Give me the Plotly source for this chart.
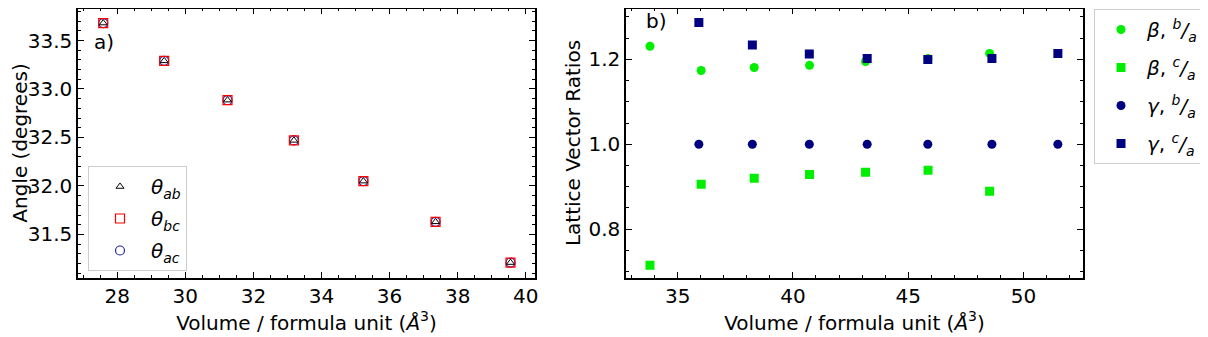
import plotly.graph_objects as go

# panel a) angles vs volume
vol_a = [27.59, 29.38, 31.24, 33.19, 35.23, 37.35, 39.55]
theta_ab = [33.68, 33.29, 32.885, 32.47, 32.05, 31.63, 31.21]
theta_bc = [33.68, 33.29, 32.885, 32.47, 32.05, 31.63, 31.21]
theta_ac = [33.68, 33.29, 32.885, 32.47, 32.05, 31.63, 31.21]

# panel b) lattice vector ratios
vol_beta = [33.80, 36.02, 38.32, 40.72, 43.15, 45.86, 48.53]
beta_ba = [1.231, 1.174, 1.181, 1.186, 1.195, 1.202, 1.214]
beta_ca = [0.715, 0.906, 0.920, 0.929, 0.934, 0.939, 0.889]
vol_gamma = [35.92, 38.24, 40.71, 43.22, 45.85, 48.63, 51.49]
gamma_ba = [1.0, 1.0, 1.0, 1.0, 1.0, 1.0, 1.0]
gamma_ca = [1.287, 1.234, 1.213, 1.202, 1.200, 1.202, 1.214]

FONT = "DejaVu Sans"
FS = 20
GREEN = "#00ee00"
NAVY = "#000080"

# page body has an 8px margin, so the figure is 8px smaller and positions are offset
OFF = 8
W, H = 1208 - OFF, 337 - OFF


def px(x):
    return min(1, max(0, (x - OFF) / W))


def py(y):
    return min(1, max(0, 1 - (y - OFF) / H))


fig = go.Figure()

# left panel (each trace its own legend group so tracegroupgap spaces the entries)
fig.add_trace(go.Scatter(x=vol_a, y=theta_ac, mode="markers", name="<i>θ<sub>ac</sub></i>",
                         marker=dict(symbol="circle-open", size=9, color="#22229a", line=dict(width=1.2)),
                         xaxis="x", yaxis="y", legend="legend", legendgroup="ac", legendrank=3))
fig.add_trace(go.Scatter(x=vol_a, y=theta_bc, mode="markers", name="<i>θ<sub>bc</sub></i>",
                         marker=dict(symbol="square-open", size=9, color="red", line=dict(width=1.2)),
                         xaxis="x", yaxis="y", legend="legend", legendgroup="bc", legendrank=2))
fig.add_trace(go.Scatter(x=vol_a, y=theta_ab, mode="markers", name="<i>θ<sub>ab</sub></i>",
                         marker=dict(symbol="triangle-up-open", size=7, color="black", line=dict(width=1)),
                         xaxis="x", yaxis="y", legend="legend", legendgroup="ab", legendrank=1))

# right panel
fig.add_trace(go.Scatter(x=vol_beta, y=beta_ba, mode="markers", name="<i>β</i>, <i><sup>b</sup>/<sub>a</sub></i>",
                         marker=dict(symbol="circle", size=9, color=GREEN),
                         xaxis="x2", yaxis="y2", legend="legend2", legendgroup="bba"))
fig.add_trace(go.Scatter(x=vol_beta, y=beta_ca, mode="markers", name="<i>β</i>, <i><sup>c</sup>/<sub>a</sub></i>",
                         marker=dict(symbol="square", size=9, color=GREEN),
                         xaxis="x2", yaxis="y2", legend="legend2", legendgroup="bca"))
fig.add_trace(go.Scatter(x=vol_gamma, y=gamma_ba, mode="markers", name="<i>γ</i>, <i><sup>b</sup>/<sub>a</sub></i>",
                         marker=dict(symbol="circle", size=9, color=NAVY),
                         xaxis="x2", yaxis="y2", legend="legend2", legendgroup="gba"))
fig.add_trace(go.Scatter(x=vol_gamma, y=gamma_ca, mode="markers", name="<i>γ</i>, <i><sup>c</sup>/<sub>a</sub></i>",
                         marker=dict(symbol="square", size=9, color=NAVY),
                         xaxis="x2", yaxis="y2", legend="legend2", legendgroup="gca"))

ydom = [py(277.5), py(8.5)]

axis_common = dict(
    showline=True, linecolor="black", linewidth=1.5, mirror="allticks",
    ticks="inside", ticklen=6, tickwidth=1.2, tickcolor="black",
    showgrid=False, zeroline=False, automargin=False,
    tickfont=dict(family=FONT, size=FS, color="black"),
)
xtitle = "Volume / formula unit (<i>Å</i><sup>3</sup>)"

fig.update_layout(
    width=W, height=H,
    margin=dict(l=0, r=0, t=0, b=0),
    paper_bgcolor="white", plot_bgcolor="white",
    font=dict(family=FONT, color="black"),
    xaxis=dict(axis_common, domain=[px(78), px(535)], range=[26.85, 40.27], dtick=2,
               minor=dict(ticks="inside", dtick=0.5, ticklen=3, tickcolor="black"),
               title=dict(text=xtitle, font=dict(family=FONT, size=FS), standoff=2),
               anchor="y"),
    yaxis=dict(axis_common, domain=ydom, range=[31.056, 33.83], dtick=0.5, tickformat=".1f",
               minor=dict(ticks="inside", dtick=0.1, ticklen=3, tickcolor="black"),
               title=dict(text="Angle (degrees)", font=dict(family=FONT, size=FS), standoff=11),
               anchor="x"),
    xaxis2=dict(axis_common, domain=[px(626), px(1083)], range=[32.76, 52.58], dtick=5,
                minor=dict(ticks="inside", dtick=1, ticklen=3, tickcolor="black"),
                title=dict(text=xtitle, font=dict(family=FONT, size=FS), standoff=2),
                anchor="y2"),
    yaxis2=dict(axis_common, domain=ydom, range=[0.686, 1.320], dtick=0.2, tickformat=".1f",
                minor=dict(ticks="inside", dtick=0.05, ticklen=3, tickcolor="black"),
                title=dict(text="Lattice Vector Ratios", font=dict(family=FONT, size=FS), standoff=2),
                anchor="x2"),
    legend=dict(x=px(88), y=py(166), xanchor="left", yanchor="top",
                bgcolor="white", bordercolor="#cccccc", borderwidth=1, itemwidth=52,
                tracegroupgap=3,
                font=dict(family=FONT, size=FS), traceorder="grouped"),
    legend2=dict(x=px(1094), y=py(9), xanchor="left", yanchor="top",
                 bgcolor="white", bordercolor="#cccccc", borderwidth=1, itemwidth=42,
                 tracegroupgap=9,
                 font=dict(family=FONT, size=FS), traceorder="grouped"),
    annotations=[
        dict(text="a)", x=0.03, y=0.875, xref="x domain", yref="y domain",
             xanchor="left", yanchor="middle", showarrow=False, font=dict(family=FONT, size=FS)),
        dict(text="b)", x=0.04, y=0.955, xref="x2 domain", yref="y2 domain",
             xanchor="left", yanchor="middle", showarrow=False, font=dict(family=FONT, size=FS)),
    ],
)

fig.write_html("out.html")
